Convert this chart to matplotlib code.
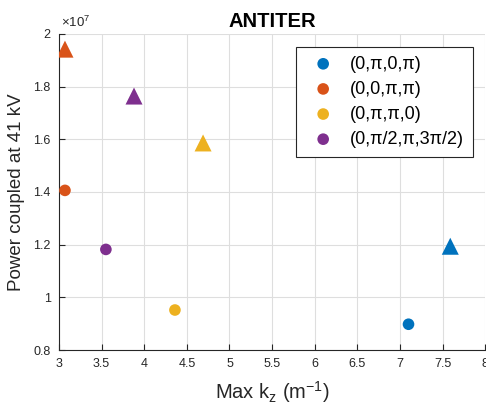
import matplotlib.pyplot as plt
from matplotlib.ticker import FuncFormatter, MultipleLocator

plt.rcParams['font.family'] = ['Liberation Sans', 'DejaVu Sans']
plt.rcParams['mathtext.fontset'] = 'custom'
plt.rcParams['mathtext.rm'] = 'Liberation Sans'
plt.rcParams['mathtext.it'] = 'Liberation Sans'

# phase configurations
labels = ['(0,π,0,π)', '(0,0,π,π)', '(0,π,π,0)', '(0,π/2,π,3π/2)']
colors = ['#0072BD', '#D95319', '#EDB120', '#7E2F8E']

# circle markers
kz_circ = [7.10, 3.07, 4.36, 3.55]
power_circ = [0.898e7, 1.406e7, 0.952e7, 1.182e7]

# triangle markers
kz_tri = [7.59, 3.07, 4.69, 3.88]
power_tri = [1.194e7, 1.942e7, 1.586e7, 1.764e7]

fig = plt.figure(figsize=(4.86, 4.08), dpi=100)
ax = fig.add_axes([0.1214, 0.142, 0.877, 0.775])

for i in range(len(labels)):
    ax.scatter(kz_circ[i], power_circ[i], s=70, marker='o', color=colors[i],
               edgecolors='none', label=labels[i], zorder=3)
    ax.scatter(kz_tri[i], power_tri[i], s=150, marker='^', color=colors[i],
               edgecolors='none', zorder=3)

ax.set_xlim(3, 8)
ax.set_ylim(0.8e7, 2e7)
ax.xaxis.set_major_locator(MultipleLocator(0.5))
ax.yaxis.set_major_locator(MultipleLocator(0.2e7))
ax.xaxis.set_major_formatter(FuncFormatter(lambda v, p: f'{v:g}'))
ax.yaxis.set_major_formatter(FuncFormatter(lambda v, p: f'{v / 1e7:g}'))
ax.text(0.005, 1.012, r'$\times$10$^{7}$', transform=ax.transAxes,
        fontsize=9.5, color='#262626', ha='left', va='bottom')

ax.grid(True, color='#dedede', linewidth=0.8, zorder=0)
ax.set_axisbelow(True)
for side in ['top', 'right']:
    ax.spines[side].set_visible(False)
for side in ['left', 'bottom']:
    ax.spines[side].set_color('#262626')
ax.tick_params(direction='in', length=4, labelsize=9, colors='#262626', pad=6)

ax.set_xlabel('Max k$_z$ (m$^{-1}$)', fontsize=14.5, color='#262626', labelpad=6)
ax.set_ylabel('Power coupled at 41 kV', fontsize=13.5, color='#262626', labelpad=6)
ax.set_title('ANTITER', fontsize=14.5, fontweight='bold', pad=5)

leg = ax.legend(loc='upper right', bbox_to_anchor=(0.972, 0.96), borderaxespad=0,
                fontsize=13, handletextpad=0.5, borderpad=0.5, labelspacing=0.45,
                fancybox=False, framealpha=1, markerscale=1.0)
leg.get_frame().set_edgecolor('#262626')
leg.get_frame().set_linewidth(0.8)

fig.savefig('out.png', dpi=100)
